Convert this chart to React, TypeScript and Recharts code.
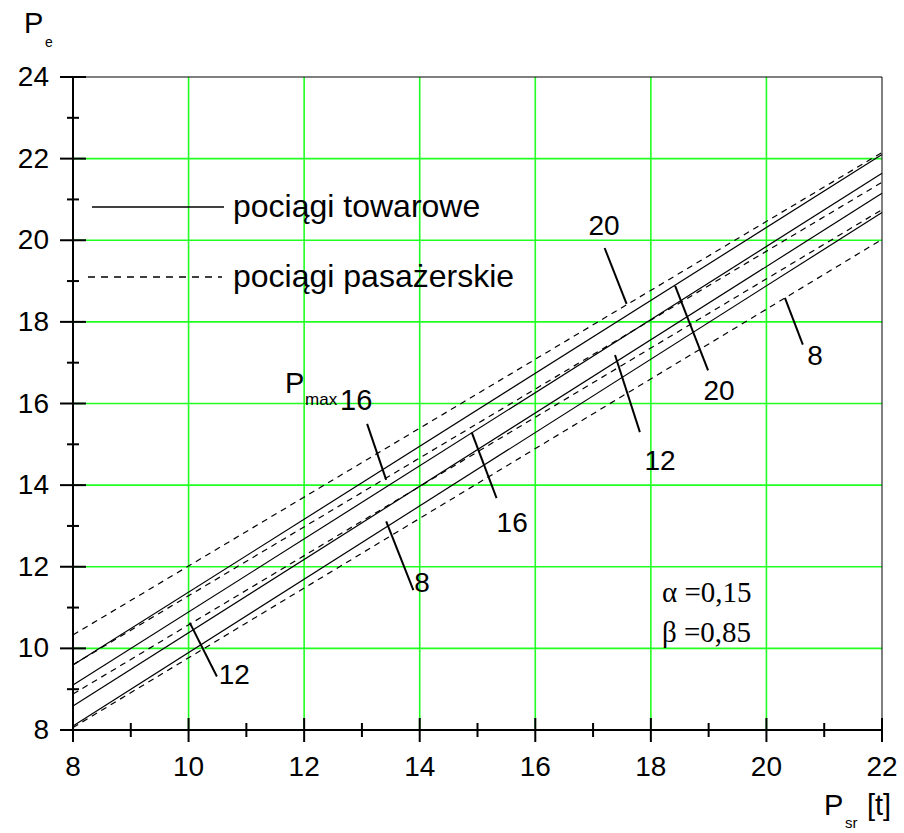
import React from "react";
import {
  LineChart,
  Line,
  XAxis,
  YAxis,
  CartesianGrid,
  ReferenceLine,
  ReferenceDot,
} from "recharts";

// P_sr at the two ends of every (straight) line
const psr = [8, 22];

// pociągi towarowe (solid), P_max = 8, 12, 16, 20
const tow8 = [8.1, 20.68];
const tow12 = [8.59, 21.15];
const tow16 = [9.1, 21.64];
const tow20 = [9.59, 22.1];

// pociągi pasażerskie (dashed), P_max = 8, 12, 16, 20
const pas8 = [8.06, 20.02];
const pas12 = [8.88, 20.75];
const pas16 = [9.6, 21.42];
const pas20 = [10.33, 22.15];

const xTicks = [8, 9, 10, 11, 12, 13, 14, 15, 16, 17, 18, 19, 20, 21, 22];
const yTicks = [8, 9, 10, 11, 12, 13, 14, 15, 16, 17, 18, 19, 20, 21, 22, 23, 24];
const xGrid = [10, 12, 14, 16, 18, 20];
const yGrid = [10, 12, 14, 16, 18, 20, 22];

// P_max labels on the lines and their leader strokes
const labelText = ["20", "20", "8", "12", "16", "8", "12"];
const labelX = [17.19, 19.18, 20.84, 18.16, 15.6, 14.04, 10.79];
const labelY = [20.37, 16.33, 17.19, 14.62, 13.1, 11.63, 9.38];

const leaderFrom = [
  { x: 17.2, y: 19.81 },
  { x: 18.42, y: 18.88 },
  { x: 20.32, y: 18.59 },
  { x: 17.38, y: 17.19 },
  { x: 13.09, y: 15.5 },
  { x: 14.9, y: 15.29 },
  { x: 13.42, y: 13.11 },
  { x: 10.02, y: 10.63 },
];
const leaderTo = [
  { x: 17.58, y: 18.44 },
  { x: 18.99, y: 16.81 },
  { x: 20.63, y: 17.44 },
  { x: 17.81, y: 15.3 },
  { x: 13.42, y: 14.13 },
  { x: 15.33, y: 13.68 },
  { x: 13.89, y: 11.43 },
  { x: 10.49, y: 9.31 },
];

const pmaxAt = { x: 11.67, y: 16.26 };

const data = psr.map((p, i) => ({
  psr: p,
  tow8: tow8[i],
  tow12: tow12[i],
  tow16: tow16[i],
  tow20: tow20[i],
  pas8: pas8[i],
  pas12: pas12[i],
  pas16: pas16[i],
  pas20: pas20[i],
}));

const SANS = "'Liberation Sans', Arial, sans-serif";
const SERIF = "'Liberation Serif', 'Times New Roman', serif";
const GREEN = "#22ff22";

function YTick(props: any) {
  const { x, y, payload } = props;
  const major = payload.value % 2 === 0;
  const len = major ? 13 : 6;
  return (
    <g>
      <line x1={x - len} x2={x + len} y1={y} y2={y} stroke="#000" strokeWidth={2} />
      {major && (
        <text x={x - 24} y={y + 9} textAnchor="end" fontSize={28} fontFamily={SANS} fill="#000">
          {payload.value}
        </text>
      )}
    </g>
  );
}

function XTick(props: any) {
  const { x, y, payload } = props;
  const major = payload.value % 2 === 0;
  const len = major ? 12 : 7;
  return (
    <g>
      <line x1={x} x2={x} y1={y - len} y2={y + len} stroke="#000" strokeWidth={2} />
      {major && (
        <text x={x} y={y + 46} textAnchor="middle" fontSize={28} fontFamily={SANS} fill="#000">
          {payload.value}
        </text>
      )}
    </g>
  );
}

const solid = ["tow8", "tow12", "tow16", "tow20"];
const dashed = ["pas8", "pas12", "pas16", "pas20"];

export default function App() {
  return (
    <div style={{ position: "absolute", left: 0, top: 0, width: 904, height: 833, background: "#fff" }}>
      <LineChart
        width={904}
        height={833}
        data={data}
        margin={{ top: 77, right: 22, bottom: 0, left: 0 }}
      >
        <CartesianGrid
          stroke={GREEN}
          strokeWidth={1.6}
          horizontalValues={yGrid}
          verticalValues={xGrid}
        />
        <XAxis
          dataKey="psr"
          type="number"
          domain={[8, 22]}
          ticks={xTicks}
          interval={0}
          height={103}
          tickSize={0}
          tickMargin={0}
          tickLine={false}
          axisLine={{ stroke: "#000", strokeWidth: 2 }}
          tick={<XTick />}
        />
        <YAxis
          type="number"
          domain={[8, 24]}
          ticks={yTicks}
          interval={0}
          width={73}
          tickSize={0}
          tickMargin={0}
          tickLine={false}
          axisLine={{ stroke: "#000", strokeWidth: 2 }}
          tick={<YTick />}
        />
        <ReferenceLine y={24} stroke="#000" strokeWidth={1} />
        <ReferenceLine x={22} stroke="#000" strokeWidth={1} />
        {solid.map((k) => (
          <Line
            key={k}
            dataKey={k}
            stroke="#000"
            strokeWidth={1.2}
            dot={false}
            isAnimationActive={false}
          />
        ))}
        {dashed.map((k) => (
          <Line
            key={k}
            dataKey={k}
            stroke="#000"
            strokeWidth={1.2}
            strokeDasharray="6 5"
            dot={false}
            isAnimationActive={false}
          />
        ))}
        {leaderFrom.map((p, i) => (
          <ReferenceLine
            key={"ld" + i}
            segment={[p, leaderTo[i]]}
            stroke="#000"
            strokeWidth={2}
          />
        ))}
        {labelText.map((t, i) => (
          <ReferenceDot
            key={"lb" + i}
            x={labelX[i]}
            y={labelY[i]}
            r={0}
            shape={(p: any) => (
              <text
                x={p.cx}
                y={p.cy + 10}
                textAnchor="middle"
                fontSize={28}
                fontFamily={SANS}
                fill="#000"
              >
                {t}
              </text>
            )}
          />
        ))}
        <ReferenceDot
          x={pmaxAt.x}
          y={pmaxAt.y}
          r={0}
          shape={(p: any) => (
            <text x={p.cx} y={p.cy} fontFamily={SANS} fill="#000" fontSize={29}>
              P
              <tspan x={p.cx + 20} y={p.cy + 12} fontSize={17}>max</tspan>
              <tspan x={p.cx + 55} y={p.cy + 17} fontSize={29}>16</tspan>
            </text>
          )}
        />
      </LineChart>
      <svg
        width={904}
        height={833}
        style={{ position: "absolute", left: 0, top: 0, pointerEvents: "none" }}
      >
        <text x={24} y={33} fontSize={29} fontFamily={SANS}>P</text>
        <text x={45} y={47} fontSize={14} fontFamily={SANS}>e</text>

        <text x={824} y={815} fontSize={29} fontFamily={SANS}>P</text>
        <text x={845} y={828} fontSize={15} fontFamily={SANS}>sr</text>
        <text x={867} y={815} fontSize={29} fontFamily={SANS}>[t]</text>

        <line x1={92} x2={224} y1={207} y2={207} stroke="#000" strokeWidth={1.3} />
        <text x={233} y={217} fontSize={32} fontFamily={SANS}>pociągi towarowe</text>
        <line x1={88} x2={222} y1={277} y2={277} stroke="#000" strokeWidth={1.3} strokeDasharray="7 6" />
        <text x={233} y={287} fontSize={32} fontFamily={SANS}>pociągi pasażerskie</text>

        <text x={662} y={602} fontSize={29} fontFamily={SERIF}>α =0,15</text>
        <text x={662} y={642} fontSize={29} fontFamily={SERIF}>β =0,85</text>
      </svg>
    </div>
  );
}
